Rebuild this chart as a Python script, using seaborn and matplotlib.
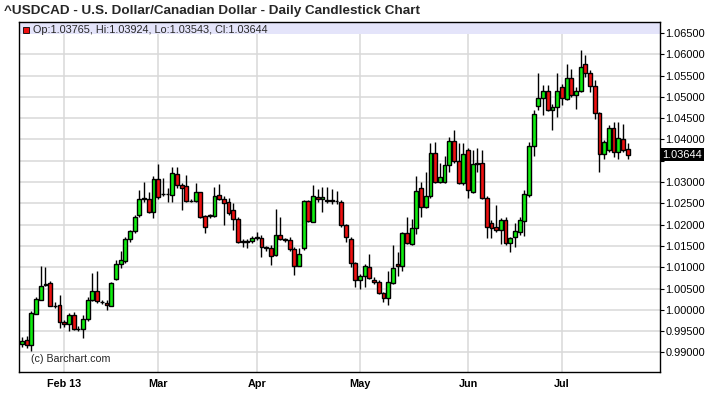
import matplotlib
matplotlib.use("Agg")
import matplotlib.pyplot as plt
import matplotlib.transforms as mtransforms
import seaborn as sns
import pandas as pd
import numpy as np

# daily OHLC (2013-01-21 .. 2013-07-19)
opens = [
    0.9920, 0.9930, 0.9917, 0.9991, 1.0023, 1.0059, 1.0062, 1.0010, 1.0011, 0.9971,
    0.9967, 0.9988, 0.9955, 0.9955, 0.9978, 1.0023, 1.0045, 1.0019, 1.0016, 1.0009,
    1.0072, 1.0108, 1.0115, 1.0166, 1.0185, 1.0223, 1.0261, 1.0261, 1.0229, 1.0306,
    1.0272, 1.0273, 1.0270, 1.0319, 1.0293, 1.0291, 1.0256, 1.0256, 1.0276, 1.0221,
    1.0221, 1.0221, 1.0269, 1.0259, 1.0252, 1.0234, 1.0213, 1.0161, 1.0160, 1.0162,
    1.0169, 1.0168, 1.0147, 1.0145, 1.0128, 1.0175, 1.0166, 1.0164, 1.0142, 1.0103,
    1.0144, 1.0255, 1.0207, 1.0264, 1.0260, 1.0257, 1.0257, 1.0256, 1.0254, 1.0198,
    1.0166, 1.0109, 1.0070, 1.0080, 1.0100, 1.0070, 1.0066, 1.0039, 1.0028, 1.0064,
    1.0108, 1.0104, 1.0180, 1.0155, 1.0191, 1.0285, 1.0241, 1.0266, 1.0367, 1.0301,
    1.0301, 1.0340, 1.0397, 1.0350, 1.0297, 1.0374, 1.0277, 1.0343, 1.0344, 1.0262,
    1.0203, 1.0195, 1.0187, 1.0211, 1.0156, 1.0172, 1.0183, 1.0209, 1.0269, 1.0384,
    1.0478, 1.0498, 1.0514, 1.0470, 1.0475, 1.0522, 1.0496, 1.0543, 1.0504, 1.0514,
    1.0578, 1.0557, 1.0526, 1.0463, 1.0365, 1.0376, 1.0426, 1.0371, 1.0402, 1.03765,
]
highs = [
    0.9937, 0.9938, 0.9998, 1.0031, 1.0102, 1.0101, 1.0067, 1.0018, 1.0034, 0.9975,
    0.9992, 0.9994, 0.9962, 0.9988, 1.0030, 1.0086, 1.0092, 1.0022, 1.0022, 1.0066,
    1.0117, 1.0137, 1.0170, 1.0188, 1.0223, 1.0281, 1.0301, 1.0277, 1.0313, 1.0342,
    1.0309, 1.0285, 1.0336, 1.0336, 1.0297, 1.0316, 1.0260, 1.0297, 1.0277, 1.0223,
    1.0225, 1.0288, 1.0295, 1.0267, 1.0262, 1.0250, 1.0219, 1.0166, 1.0166, 1.0173,
    1.0183, 1.0176, 1.0150, 1.0152, 1.0236, 1.0217, 1.0168, 1.0170, 1.0148, 1.0144,
    1.0258, 1.0258, 1.0293, 1.0283, 1.0289, 1.0289, 1.0284, 1.0278, 1.0258, 1.0202,
    1.0170, 1.0112, 1.0084, 1.0108, 1.0131, 1.0077, 1.0069, 1.0041, 1.0092, 1.0151,
    1.0135, 1.0182, 1.0217, 1.0213, 1.0314, 1.0301, 1.0324, 1.0392, 1.0395, 1.0344,
    1.0361, 1.0406, 1.0422, 1.0391, 1.0391, 1.0379, 1.0374, 1.0379, 1.0375, 1.0266,
    1.0211, 1.0246, 1.0215, 1.0217, 1.0172, 1.0203, 1.0219, 1.0281, 1.0395, 1.0469,
    1.0557, 1.0527, 1.0527, 1.0484, 1.0555, 1.0531, 1.0578, 1.0566, 1.0523, 1.0611,
    1.0598, 1.0562, 1.0539, 1.0465, 1.0398, 1.0433, 1.0441, 1.0441, 1.0437, 1.03924,
]
lows = [
    0.9912, 0.9910, 0.9904, 0.9989, 1.0022, 1.0055, 1.0008, 1.0004, 0.9957, 0.9960,
    0.9950, 0.9953, 0.9950, 0.9934, 0.9973, 1.0020, 1.0017, 1.0014, 1.0000, 1.0008,
    1.0069, 1.0098, 1.0109, 1.0159, 1.0180, 1.0217, 1.0254, 1.0227, 1.0216, 1.0259,
    1.0266, 1.0254, 1.0254, 1.0285, 1.0234, 1.0254, 1.0252, 1.0254, 1.0215, 1.0181,
    1.0216, 1.0219, 1.0258, 1.0199, 1.0223, 1.0188, 1.0156, 1.0148, 1.0145, 1.0156,
    1.0164, 1.0123, 1.0137, 1.0106, 1.0127, 1.0164, 1.0160, 1.0137, 1.0082, 1.0102,
    1.0141, 1.0207, 1.0205, 1.0254, 1.0230, 1.0250, 1.0249, 1.0249, 1.0194, 1.0159,
    1.0100, 1.0053, 1.0049, 1.0053, 1.0073, 1.0061, 1.0036, 1.0018, 1.0012, 1.0061,
    1.0080, 1.0091, 1.0155, 1.0151, 1.0179, 1.0217, 1.0238, 1.0262, 1.0298, 1.0298,
    1.0298, 1.0324, 1.0344, 1.0295, 1.0293, 1.0262, 1.0275, 1.0324, 1.0259, 1.0168,
    1.0168, 1.0183, 1.0154, 1.0152, 1.0136, 1.0148, 1.0175, 1.0173, 1.0264, 1.0361,
    1.0469, 1.0457, 1.0467, 1.0423, 1.0453, 1.0480, 1.0492, 1.0500, 1.0472, 1.0512,
    1.0547, 1.0512, 1.0449, 1.0324, 1.0355, 1.0371, 1.0359, 1.0355, 1.0371, 1.03543,
]
closes = [
    0.9927, 0.9917, 0.9992, 1.0025, 1.0057, 1.0061, 1.0009, 1.0008, 0.9972, 0.9967,
    0.9987, 0.9955, 0.9954, 0.9978, 1.0023, 1.0045, 1.0020, 1.0018, 1.0011, 1.0063,
    1.0108, 1.0116, 1.0166, 1.0185, 1.0217, 1.0259, 1.0262, 1.0229, 1.0306, 1.0264,
    1.0273, 1.0271, 1.0320, 1.0293, 1.0287, 1.0256, 1.0255, 1.0276, 1.0219, 1.0194,
    1.0222, 1.0267, 1.0259, 1.0250, 1.0227, 1.0213, 1.0160, 1.0160, 1.0161, 1.0168,
    1.0170, 1.0147, 1.0146, 1.0127, 1.0175, 1.0166, 1.0165, 1.0142, 1.0103, 1.0130,
    1.0255, 1.0209, 1.0266, 1.0260, 1.0264, 1.0256, 1.0256, 1.0255, 1.0198, 1.0170,
    1.0109, 1.0070, 1.0080, 1.0102, 1.0075, 1.0066, 1.0039, 1.0028, 1.0066, 1.0098,
    1.0103, 1.0180, 1.0156, 1.0192, 1.0279, 1.0241, 1.0266, 1.0367, 1.0301, 1.0312,
    1.0340, 1.0397, 1.0350, 1.0297, 1.0366, 1.0281, 1.0342, 1.0344, 1.0262, 1.0194,
    1.0191, 1.0187, 1.0211, 1.0156, 1.0168, 1.0185, 1.0211, 1.0271, 1.0384, 1.0460,
    1.0498, 1.0514, 1.0470, 1.0476, 1.0514, 1.0498, 1.0543, 1.0504, 1.0514, 1.0570,
    1.0557, 1.0526, 1.0461, 1.0365, 1.0394, 1.0426, 1.0371, 1.0404, 1.0376, 1.03644,
]

first_day = "2013-01-21"
last_day = "2013-07-19"
month_labels = ["Feb 13", "Mar", "Apr", "May", "Jun", "Jul"]
price_ticks = np.arange(0.990, 1.0651, 0.005)
title = "^USDCAD - U.S. Dollar/Canadian Dollar - Daily Candlestick Chart"
legend_text = "Op:1.03765, Hi:1.03924, Lo:1.03543, Cl:1.03644"
last_close = closes[-1]

df = pd.DataFrame({
    "date": pd.bdate_range(first_day, last_day),
    "open": opens, "high": highs, "low": lows, "close": closes,
})
df["pos"] = np.arange(len(df))
df["bottom"] = df[["open", "close"]].min(axis=1)
df["height"] = (df["close"] - df["open"]).abs()
df["color"] = np.where(df["close"] >= df["open"], "#10ee10", "#ee1010")

# first trading day of every month after January
month_start = df[df["date"].dt.month > 1].groupby(df["date"].dt.month)["pos"].first()

sns.set_theme(style="white")
plt.rcParams["font.family"] = ["Liberation Sans", "DejaVu Sans"]

fig = plt.figure(figsize=(7.2, 3.97), dpi=100)
ax = fig.add_axes([19 / 720, 25 / 397, 641 / 720, 350 / 397])

ax.set_xlim(-0.64, 135.9)
ax.set_ylim(0.9854, 1.06756)

# grid
for y in price_ticks:
    ax.axhline(y, color="#d9d9d9", lw=1.1, zorder=0)
for x in month_start:
    ax.axvline(x, color="#d9d9d9", lw=1.1, zorder=0)

# legend band at the top
ax.axhspan(1.0647, 1.06756, color="#e4e4fa", zorder=1, lw=0)

# candles
ax.vlines(df["pos"], df["low"], df["high"], color="black", lw=1.0, zorder=2)
ax.bar(df["pos"], df["height"], bottom=df["bottom"], width=0.82,
       color=df["color"], edgecolor="black", linewidth=1.0, zorder=3)

# axes
for s in ax.spines.values():
    s.set_color("black")
    s.set_linewidth(1.0)
ax.yaxis.tick_right()
ax.set_yticks(price_ticks)
ax.set_yticklabels(["" if abs(v - 1.035) < 1e-6 else f"{v:.5f}" for v in price_ticks])
ax.tick_params(axis="y", right=True, length=3, width=0.8, color="black",
               direction="out", labelsize=7.9, pad=1, labelcolor="black")
ax.set_xticks(month_start.values)
ax.set_xticklabels(month_labels, fontsize=7.8, fontweight="bold")
ax.tick_params(axis="x", bottom=False, length=0, pad=5, labelcolor="black")
ax.grid(False)

# last price box
trans = mtransforms.blended_transform_factory(ax.transAxes, ax.transData)
ax.text(1.004, last_close, f"{last_close:.5f}", transform=trans, color="white",
        fontsize=7.9, va="center", ha="left",
        bbox=dict(facecolor="black", edgecolor="none", pad=1.2))

# texts
fig.text(4 / 720, 1 - 11 / 397, title, fontsize=9.7, fontweight="bold",
         va="center", ha="left")
ax.plot([0.011], [0.976], marker="s", ms=5, mfc="#ee1010", mec="black", mew=0.6,
        transform=ax.transAxes, zorder=5, clip_on=False)
ax.text(0.022, 0.976, legend_text, transform=ax.transAxes, fontsize=7.8,
        va="center", ha="left", zorder=5)
ax.text(0.019, 0.038, "(c) Barchart.com", transform=ax.transAxes, fontsize=7.7,
        va="center", ha="left", zorder=5)

fig.savefig("out.png", dpi=100, facecolor="white")
